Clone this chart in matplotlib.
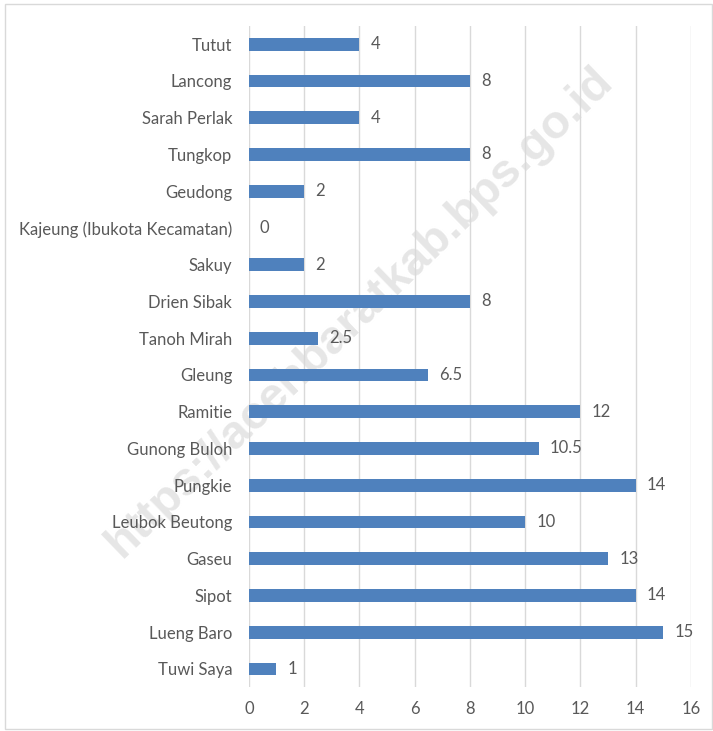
import matplotlib
matplotlib.use("Agg")
import matplotlib.pyplot as plt
from matplotlib.patches import Rectangle

# villages listed bottom-to-top as they are drawn
villages = [
    "Tuwi Saya", "Lueng Baro", "Sipot", "Gaseu", "Leubok Beutong",
    "Pungkie", "Gunong Buloh", "Ramitie", "Gleung", "Tanoh Mirah",
    "Drien Sibak", "Sakuy", "Kajeung (Ibukota Kecamatan)", "Geudong",
    "Tungkop", "Sarah Perlak", "Lancong", "Tutut",
]
values = [1, 15, 14, 13, 10, 14, 10.5, 12, 6.5, 2.5, 8, 2, 0, 2, 8, 4, 8, 4]
x_ticks = [0, 2, 4, 6, 8, 10, 12, 14, 16]

BAR_COLOR = "#4F81BD"
TEXT_COLOR = "#595959"
GRID_COLOR = "#D9D9D9"

plt.rcParams["font.family"] = ["Lato", "DejaVu Sans"]

fig = plt.figure(figsize=(7.13, 7.31), dpi=100)
ax = fig.add_axes([0.349, 0.0597, 0.620, 0.905])

pos = list(range(len(villages)))
ax.barh(pos, values, height=0.35, color=BAR_COLOR, zorder=3)

for y, v in zip(pos, values):
    ax.annotate(f"{v:g}", (v, y), xytext=(8, 0), textcoords="offset points",
                va="center", ha="left", fontsize=12, color=TEXT_COLOR, zorder=4)

ax.set_xlim(0, 16)
ax.set_ylim(-0.5, len(villages) - 0.5)
ax.set_xticks(x_ticks)
ax.set_yticks(pos)
ax.set_yticklabels(villages)
ax.tick_params(axis="both", length=0, labelsize=12, labelcolor=TEXT_COLOR)
ax.tick_params(axis="y", pad=12)
ax.tick_params(axis="x", pad=10)
ax.grid(axis="x", color=GRID_COLOR, linewidth=1, zorder=0)
ax.set_axisbelow(True)
for s in ax.spines.values():
    s.set_visible(False)
ax.patch.set_alpha(0)

# watermark behind everything
fig.text(0.505, 0.573, "https://acehbaratkab.bps.go.id", rotation=44,
         ha="center", va="center", fontsize=34, fontweight="bold",
         color="#E6E6E6", family="Liberation Sans", zorder=-1)

# thin chart border
fig.patches.append(Rectangle((0.007, 0.003), 0.991, 0.992, transform=fig.transFigure,
                             fill=False, edgecolor="#D9D9D9", linewidth=1))

fig.savefig("out.png", dpi=100)
